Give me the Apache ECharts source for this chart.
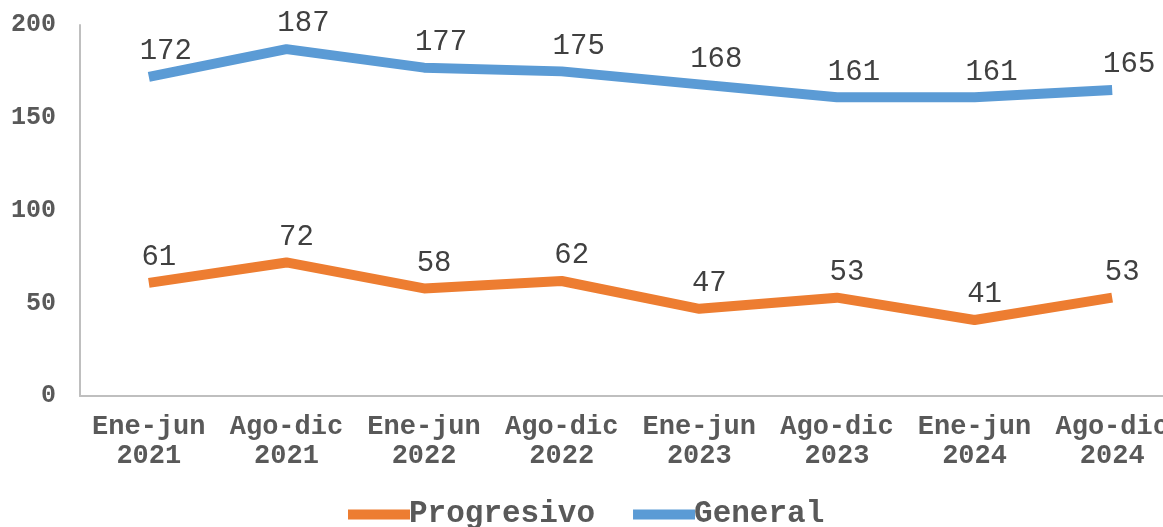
<!DOCTYPE html>
<html><head><meta charset="utf-8">
<script src="https://cdn.jsdelivr.net/npm/echarts@6/dist/echarts.min.js"></script>
<style>html,body{margin:0;padding:0;background:#fff;overflow:hidden;width:1163px;height:527px}#c{width:1181px;height:527px}</style>
</head><body><div id="c"></div>
<script>
const categories = ["Ene-jun\n2021","Ago-dic\n2021","Ene-jun\n2022","Ago-dic\n2022","Ene-jun\n2023","Ago-dic\n2023","Ene-jun\n2024","Ago-dic\n2024"];
const progresivo = [61,72,58,62,47,53,41,53];
const general = [172,187,177,175,168,161,161,165];
const yTicks = {min:0,max:200,interval:50};
const FONT = "'Liberation Mono','Courier New',monospace";
const chart = echarts.init(document.getElementById('c'));
function lbl(dx){return {show:true,position:'top',distance:11,offset:[dx,0],fontFamily:FONT,fontSize:29,color:'#404040'};}
chart.setOption({
  animation:false,
  grid:{left:80,top:25,right:0,bottom:131,containLabel:false},
  legend:{bottom:-8,left:343,itemWidth:62,itemHeight:10,itemGap:38,icon:'rect',
    textStyle:{fontFamily:FONT,fontSize:31,fontWeight:'bold',color:'#595959',padding:[0,0,0,-6]},
    data:['Progresivo','General']},
  xAxis:{type:'category',data:categories,boundaryGap:true,
    axisLine:{lineStyle:{color:'#bfbfbf',width:2}},axisTick:{show:false},
    axisLabel:{interval:0,fontFamily:FONT,fontSize:27,fontWeight:'bold',color:'#595959',lineHeight:29,margin:17}},
  yAxis:{type:'value',min:yTicks.min,max:yTicks.max,interval:yTicks.interval,
    axisLine:{show:true,lineStyle:{color:'#bfbfbf',width:2}},axisTick:{show:false},splitLine:{show:false},
    axisLabel:{fontFamily:FONT,fontSize:25,fontWeight:'bold',color:'#595959',margin:24}},
  series:[
    {name:'Progresivo',type:'line',data:progresivo,symbol:'circle',symbolSize:0,showSymbol:true,lineStyle:{width:10,color:'#ED7D31',cap:'butt'},itemStyle:{color:'#ED7D31'},label:lbl(10)},
    {name:'General',type:'line',data:general,symbol:'circle',symbolSize:0,showSymbol:true,lineStyle:{width:10,color:'#5B9BD5',cap:'butt'},itemStyle:{color:'#5B9BD5'},label:lbl(17)}
  ]
});
</script></body></html>
